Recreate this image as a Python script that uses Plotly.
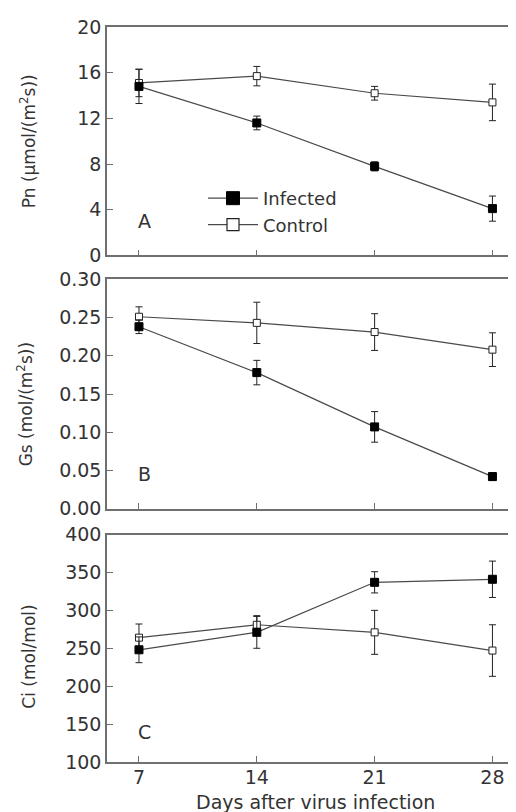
import plotly.graph_objects as go

days = [7, 14, 21, 28]

pn_infected = [14.8, 11.6, 7.8, 4.1]
pn_infected_err = [1.5, 0.6, 0.4, 1.1]
pn_control = [15.1, 15.7, 14.2, 13.4]
pn_control_err = [1.2, 0.85, 0.6, 1.6]

gs_infected = [0.238, 0.178, 0.107, 0.042]
gs_infected_err = [0.009, 0.016, 0.02, 0.005]
gs_control = [0.251, 0.243, 0.231, 0.208]
gs_control_err = [0.013, 0.027, 0.024, 0.022]

ci_infected = [248, 271, 337, 341]
ci_infected_err = [17, 21, 14, 24]
ci_control = [264, 281, 271, 247]
ci_control_err = [18, 12, 29, 34]

y_titles = ["Pn (μmol/(m<sup>2</sup>s))", "Gs (mol/(m<sup>2</sup>s))", "Ci (mol/mol)"]
panel_labels = ["A", "B", "C"]
x_title = "Days after virus infection"

FONT = "DejaVu Sans"
TXT = "#333333"
LINE = "#4a4a4a"
FRAME = "#707070"

# page body adds 8px offset; plot area spans page x 107..516, y 22..762
L, T, B, R = 99, 14, 58, 8
PW = 516 - L - R
PH = 812 - T - B

fig = go.Figure()

panels = [
    (pn_infected, pn_infected_err, pn_control, pn_control_err),
    (gs_infected, gs_infected_err, gs_control, gs_control_err),
    (ci_infected, ci_infected_err, ci_control, ci_control_err),
]

for i, (inf, inf_e, con, con_e) in enumerate(panels):
    ax = "" if i == 0 else str(i + 1)
    fig.add_trace(go.Scatter(
        x=days, y=con, mode="lines+markers", showlegend=False,
        xaxis="x" + ax, yaxis="y" + ax,
        line=dict(color=LINE, width=1.2),
        marker=dict(symbol="square", size=7, color="white", line=dict(color="#222", width=1)),
        error_y=dict(type="data", array=con_e, visible=True, color="#222", thickness=1, width=3.5),
    ))
    fig.add_trace(go.Scatter(
        x=days, y=inf, mode="lines+markers", showlegend=False,
        xaxis="x" + ax, yaxis="y" + ax,
        line=dict(color=LINE, width=1.2),
        marker=dict(symbol="square", size=8, color="black", line=dict(color="black", width=1)),
        error_y=dict(type="data", array=inf_e, visible=True, color="#222", thickness=1, width=3.5),
    ))

# legend entries
fig.add_trace(go.Scatter(
    x=[None], y=[None], mode="lines+markers", name="Infected",
    line=dict(color=LINE, width=1.2),
    marker=dict(symbol="square", size=13, color="black", line=dict(color="black", width=1)),
))
fig.add_trace(go.Scatter(
    x=[None], y=[None], mode="lines+markers", name="Control",
    line=dict(color=LINE, width=1.2),
    marker=dict(symbol="square", size=12, color="white", line=dict(color="#222", width=1.2)),
))

def py(page_y):
    return 1 - (page_y - 8 - T) / PH

def px(page_x):
    return (page_x - 8 - L) / PW

domains = [[py(252), 1.0], [py(507), py(276)], [py(762), py(533)]]
domains[2][0] = max(0.0, domains[2][0])
yranges = [[0, 20], [0, 0.30], [100, 400]]
ydticks = [4, 0.05, 50]
ytickformats = ["d", ".2f", "d"]

axis_common = dict(
    showline=True, linecolor=FRAME, linewidth=1.5,
    ticks="inside", ticklen=6, tickcolor=FRAME, tickwidth=1,
    showgrid=False, zeroline=False,
    tickfont=dict(family=FONT, size=19, color=TXT),
)

layout = dict(
    width=516, height=812,
    margin=dict(l=L, r=R, t=T, b=B),
    paper_bgcolor="white", plot_bgcolor="white",
    font=dict(family=FONT, color=TXT),
    legend=dict(
        x=px(203), y=py(176), xanchor="left", yanchor="top",
        bgcolor="rgba(0,0,0,0)", font=dict(family=FONT, size=18, color=TXT),
        tracegroupgap=0, itemwidth=50,
    ),
    showlegend=True,
)

annotations = []
title_x_page = [28, 25, 29]
title_y_dom = [0.5, 0.455, 0.463]
label_y = [3, 0.045, 140]

for i in range(3):
    ax = "" if i == 0 else str(i + 1)
    layout["xaxis" + ax] = dict(
        axis_common, domain=[0, 1], range=[5.1, 29.4],
        tickvals=days, showticklabels=(i == 2), mirror=True,
        anchor="y" + ax, ticklabelstandoff=-3,
    )
    layout["yaxis" + ax] = dict(
        axis_common, domain=domains[i], range=yranges[i],
        dtick=ydticks[i], tick0=0, tickformat=ytickformats[i],
        anchor="x" + ax, mirror=False, ticklabelstandoff=0,
    )
    annotations.append(dict(
        text=y_titles[i], textangle=-90, showarrow=False,
        xref="paper", x=px(title_x_page[i]), xanchor="center",
        yref="y" + ax + " domain", y=title_y_dom[i], yanchor="middle",
        font=dict(family=FONT, size=17, color=TXT),
    ))
    annotations.append(dict(
        text=panel_labels[i], showarrow=False,
        xref="x" + ax, x=7.3, yref="y" + ax, y=label_y[i],
        xanchor="center", yanchor="middle",
        font=dict(family=FONT, size=19, color=TXT),
    ))

annotations.append(dict(
    text=x_title, showarrow=False,
    xref="paper", x=px(315), xanchor="center",
    yref="paper", y=py(802), yanchor="middle",
    font=dict(family=FONT, size=19, color=TXT),
))

layout["annotations"] = annotations
fig.update_layout(**layout)

fig.write_html("out.html")
